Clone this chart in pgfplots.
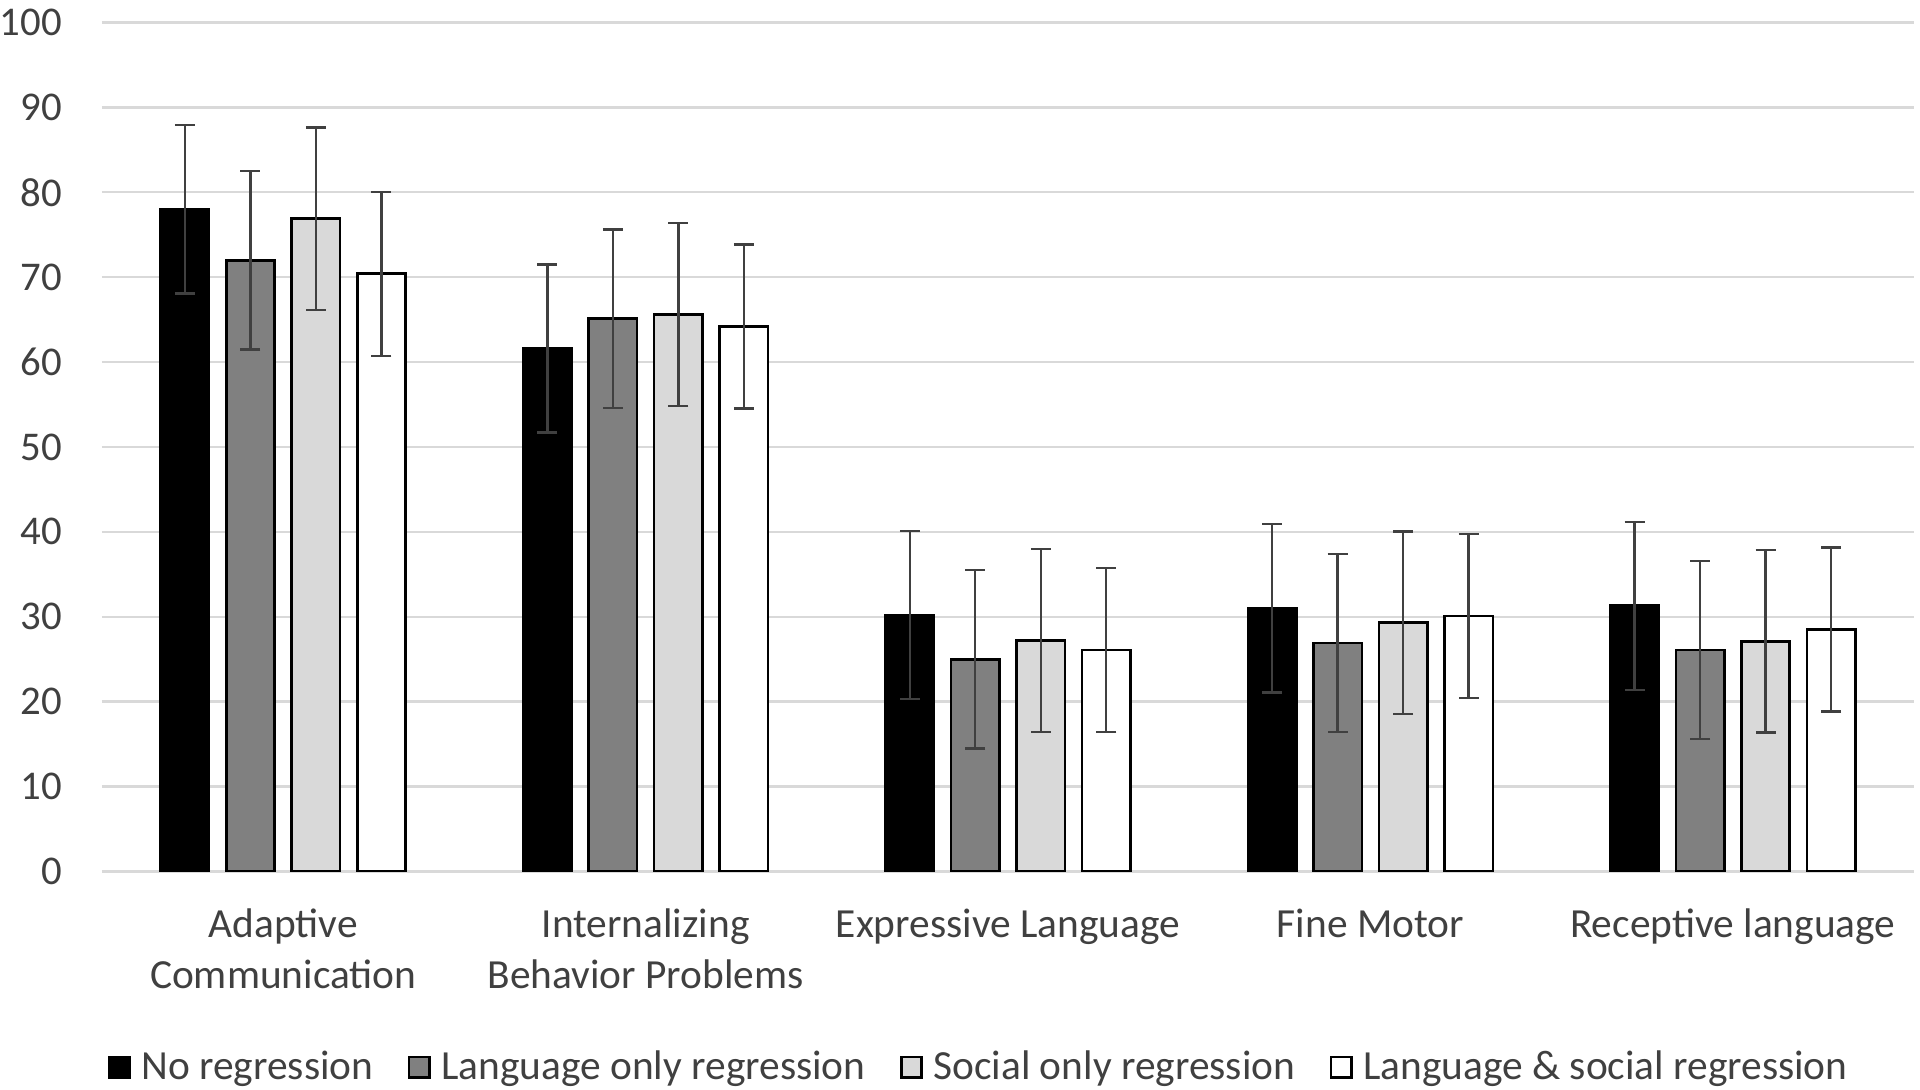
\documentclass[border=0pt]{standalone}
\usepackage{fontspec}
\setmainfont{Carlito}
\usepackage{pgfplots}
\pgfplotsset{compat=1.18}
\definecolor{txt}{HTML}{404040}
\definecolor{gridc}{HTML}{D9D9D9}
\definecolor{midgray}{HTML}{808080}
\definecolor{lightg}{HTML}{D9D9D9}
\definecolor{errc}{HTML}{404040}
\begin{document}
\begin{tikzpicture}
\path[use as bounding box] (-51pt,-109.25pt) rectangle (909pt,435.75pt);
\begin{axis}[
  scale only axis,
  width=906pt, height=424.5pt,
  xmin=-0.5, xmax=4.5, ymin=0, ymax=100,
  ytick={0,10,...,100},
  xtick={0,1,2,3,4},
  xticklabels={{\strut Adaptive\\Communication},{\strut Internalizing\\Behavior Problems},{\strut Expressive Language},{\strut Fine Motor},{\strut Receptive language}},
  axis line style={draw=none},
  major tick length=0pt,
  ymajorgrids,
  grid style={color=gridc, line width=1.2pt},
  /pgf/number format/assume math mode=true,
  yticklabel style={anchor=east, inner sep=0pt, xshift=-19.85pt, font=\fontsize{20.4}{24}\selectfont, text=txt},
  xticklabel style={align=center, anchor=north, inner sep=0pt, yshift=-15.0pt, font=\fontsize{20.7}{25.35}\selectfont, text=txt},
  ybar=8.55pt, bar width=24.2pt,
  legend columns=4,
  legend image code/.code={\draw[#1, line width=1.3pt] (0pt,-5.1pt) rectangle (10.2pt,5.1pt);},
  legend style={at={(axis description cs:0.0033,-0.2303)}, anchor=west, draw=none, fill=none, inner sep=0pt, outer sep=0pt,
    font=\fontsize{20.7}{24}\selectfont, text=txt,
    /tikz/every odd column/.append style={column sep=3.2pt},
    /tikz/every even column/.append style={column sep=15.3pt}},
  error bars/y dir=both, error bars/y explicit,
  error bars/error mark=|,
  error bars/error bar style={line width=1.2pt, errc},
  error bars/error mark options={line width=1.2pt, errc, mark size=5pt},
]
\addplot[fill=black, draw=black, line width=1.3pt] coordinates {
  (0,78.0) +- (0,9.9) (1,61.6) +- (0,9.9) (2,30.2) +- (0,9.9) (3,31.0) +- (0,9.9) (4,31.3) +- (0,9.9)};
\addplot[fill=midgray, draw=black, line width=1.3pt] coordinates {
  (0,72.0) +- (0,10.5) (1,65.1) +- (0,10.5) (2,25.0) +- (0,10.5) (3,26.9) +- (0,10.5) (4,26.1) +- (0,10.5)};
\addplot[fill=lightg, draw=black, line width=1.3pt] coordinates {
  (0,76.9) +- (0,10.75) (1,65.6) +- (0,10.75) (2,27.2) +- (0,10.75) (3,29.3) +- (0,10.75) (4,27.1) +- (0,10.75)};
\addplot[fill=white, draw=black, line width=1.3pt] coordinates {
  (0,70.4) +- (0,9.65) (1,64.2) +- (0,9.65) (2,26.1) +- (0,9.65) (3,30.1) +- (0,9.65) (4,28.5) +- (0,9.65)};
\legend{No regression, Language only regression, Social only regression, Language \& social regression}
\end{axis}
\end{tikzpicture}
\end{document}
